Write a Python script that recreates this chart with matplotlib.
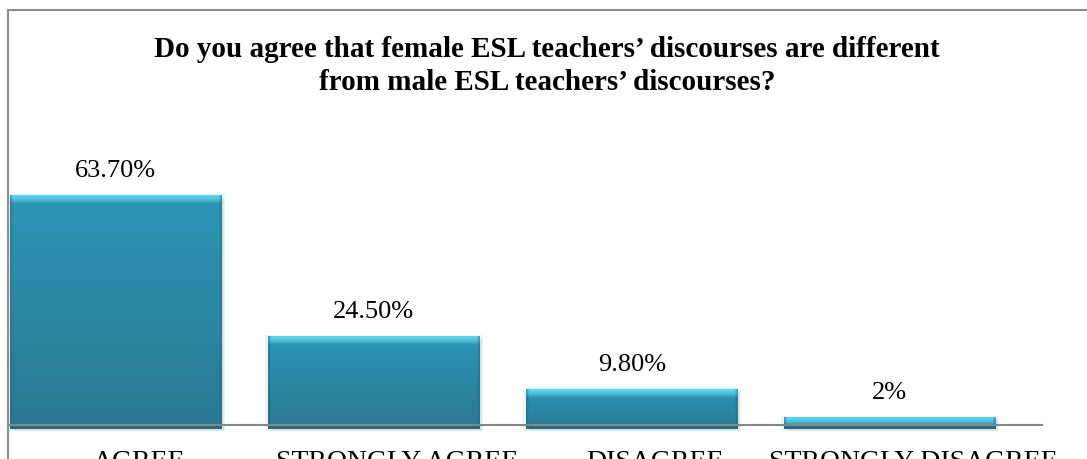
import matplotlib
matplotlib.use("Agg")
import matplotlib.pyplot as plt
import numpy as np
from matplotlib.patches import Rectangle

categories = ["AGREE", "STRONGLY AGREE", "DISAGREE", "STRONGLY DISAGREE"]
values = [63.7, 24.5, 9.8, 2.0]
value_labels = ["63.70%", "24.50%", "9.80%", "2%"]
title = "Do you agree that female ESL teachers\u2019 discourses are different\nfrom male ESL teachers\u2019 discourses?"

W, H = 1087, 459
fig = plt.figure(figsize=(W / 100, H / 100), dpi=100)
fig.patch.set_facecolor("white")

# outer chart frame (extends beyond the visible region)
fig.add_artist(Rectangle((8 / W, -0.2), 2.0, (H - 10) / H + 0.2,
                         transform=fig.transFigure, fill=False,
                         edgecolor="#8c8c8c", lw=1.5))

ax_bottom_px, ax_top_px = 425, 173
ax = fig.add_axes([10 / W, (H - ax_bottom_px) / H, 1032 / W,
                   (ax_bottom_px - ax_top_px) / H])
ymax = 70
ax.set_ylim(0, ymax)
ax.set_xlim(-0.5, 3.5)
px_per_unit = (ax_bottom_px - ax_top_px) / ymax

bar_w = 0.82
bar_shift = -0.09
x = np.arange(len(categories))

def lerp(a, b, t):
    return a + (b - a) * t

def hexrgb(h):
    h = h.lstrip("#")
    return np.array([int(h[i:i + 2], 16) / 255 for i in (0, 2, 4)])

top_body = hexrgb("#2d96b6")
bot_body = hexrgb("#2a7892")
bevel = hexrgb("#5fd3ec")
edge = hexrgb("#1f6880")

for xi, v in zip(x, values):
    xc = xi + bar_shift
    shadow_px = 4
    hpx = int(round(v * px_per_unit)) + shadow_px
    wpx = 212
    img = np.zeros((hpx, wpx, 3))
    rows = np.arange(hpx)
    t = rows / max(hpx - 1, 1)
    body = lerp(top_body[None, :], bot_body[None, :], t[:, None])
    img[:] = body[:, None, :]
    bev_h = 8
    for r in range(min(bev_h, hpx)):
        wgt = 1.0 - (r / bev_h) ** 1.5
        img[r] = lerp(img[r], bevel, wgt)
    for r in range(max(hpx - 3, 0), hpx):
        img[r] = lerp(img[r], edge, 0.6)
    for c in range(3):
        w_ = 0.5 * (1 - c / 3)
        img[:, c] = lerp(img[:, c], edge, w_)
        img[:, -1 - c] = lerp(img[:, -1 - c], edge, w_)
    y0 = -shadow_px / px_per_unit
    # soft glow / shadow
    ax.add_patch(Rectangle((xc - bar_w / 2 - 0.012, y0 - 2 / px_per_unit),
                           bar_w + 0.024, v - y0 + 4 / px_per_unit,
                           facecolor="#e4f3f8", edgecolor="none", alpha=0.8,
                           zorder=0.4, clip_on=False))
    ax.add_patch(Rectangle((xc - bar_w / 2 + 0.01, y0 - 2 / px_per_unit), bar_w, v - y0,
                           facecolor="#d4d4d4", edgecolor="none", alpha=0.6,
                           zorder=0.5, clip_on=False))
    ax.imshow(img, extent=(xc - bar_w / 2, xc + bar_w / 2, y0, v), aspect="auto",
              interpolation="bilinear", zorder=1, clip_on=False)

ax.set_xlim(-0.5, 3.5)
ax.set_ylim(0, ymax)

label_font = "Liberation Serif"
for xi, v, lab in zip(x, values, value_labels):
    ax.text(xi + bar_shift, v + 19 / px_per_unit, lab, ha="center", va="baseline",
            fontsize=19, family=label_font, color="black")

for s in ["top", "left", "right"]:
    ax.spines[s].set_visible(False)
ax.spines["bottom"].set_color("#868686")
ax.spines["bottom"].set_linewidth(1.5)
ax.spines["bottom"].set_zorder(3)
ax.set_yticks([])
ax.set_xticks(x)
ax.set_xticklabels(categories, fontsize=20, family=label_font)
ax.tick_params(axis="x", length=0, pad=18)
ax.patch.set_alpha(0)

fig.text(547 / W, (H - 36) / H, title, ha="center", va="top",
         fontsize=21, fontweight="bold", family="Liberation Serif",
         linespacing=1.28)

fig.savefig("out.png", dpi=100)
